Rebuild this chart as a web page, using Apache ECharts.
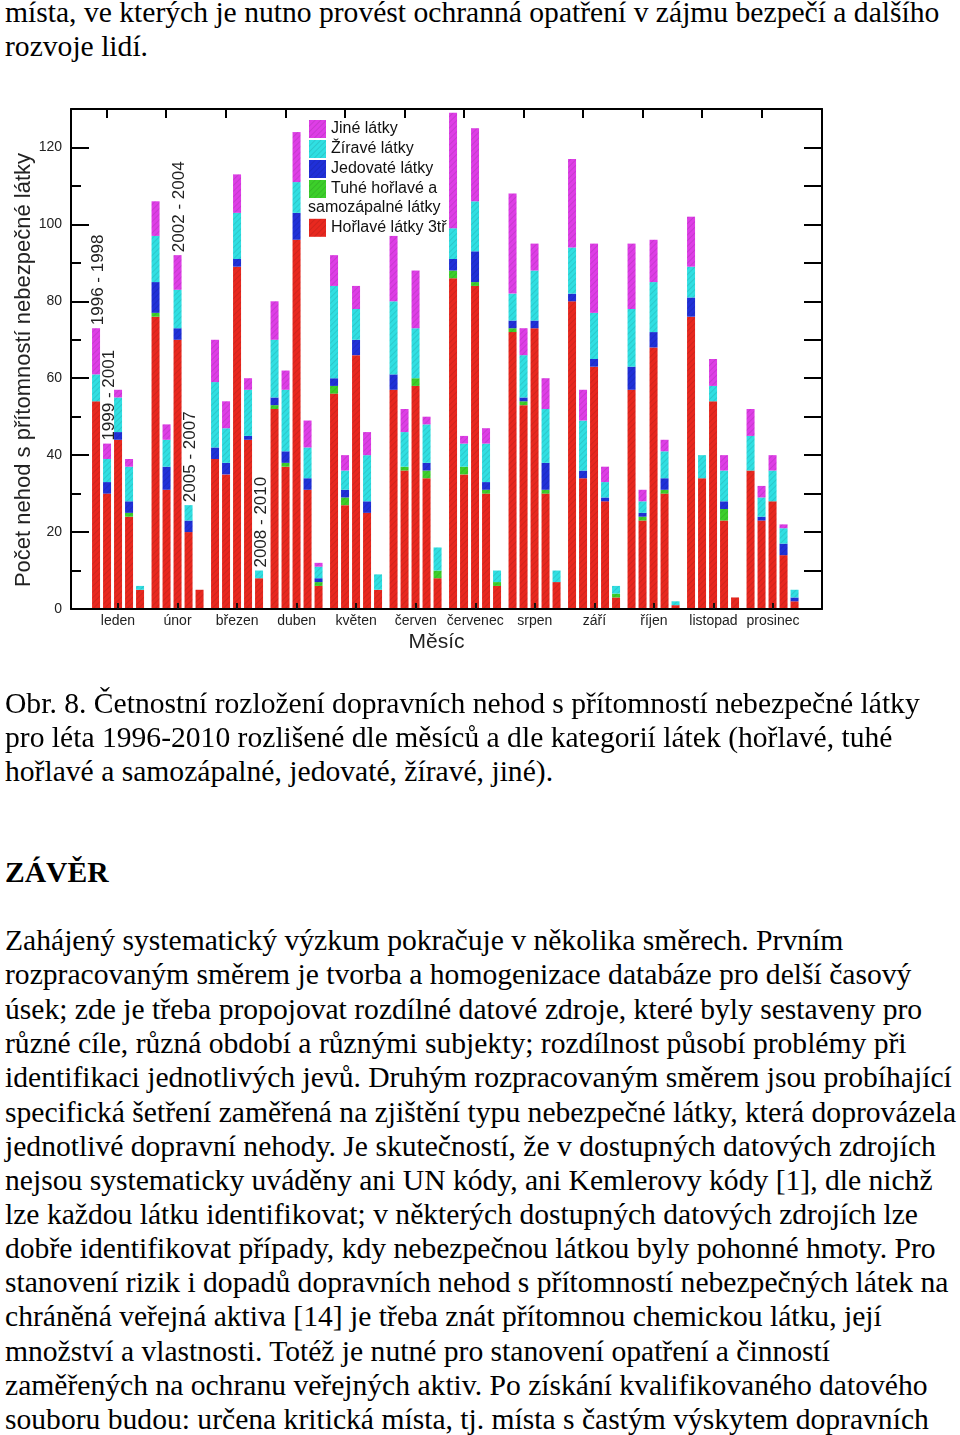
<!DOCTYPE html>
<html>
<head>
<meta charset="utf-8">
<script src="https://cdn.jsdelivr.net/npm/echarts@6/dist/echarts.min.js"></script>
<style>
  html, body { margin: 0; padding: 0; background: #fff; }
  body { width: 960px; height: 1435px; position: relative; overflow: hidden; font-family: "Liberation Serif", "Times New Roman", serif; color: #000; }
  .ln { position: absolute; left: 5px; white-space: nowrap; font-size: 29.6px; line-height: 34px; }
  .b { font-weight: bold; }
  #chart { position: absolute; left: 0; top: 90px; width: 870px; height: 600px; }
</style>
</head>
<body>
<div class="ln" style="top:-5px">místa, ve kterých je nutno provést ochranná opatření v zájmu bezpečí a dalšího</div>
<div class="ln" style="top:29px">rozvoje lidí.</div>

<div id="chart"></div>

<div class="ln" style="top:686px">Obr. 8. Četnostní rozložení dopravních nehod s přítomností nebezpečné látky</div>
<div class="ln" style="top:720px">pro léta 1996-2010 rozlišené dle měsíců a dle kategorií látek (hořlavé, tuhé</div>
<div class="ln" style="top:754px">hořlavé a samozápalné, jedovaté, žíravé, jiné).</div>

<div class="ln b" style="top:855px">ZÁVĚR</div>

<div class="ln" style="top:923px">Zahájený systematický výzkum pokračuje v několika směrech. Prvním</div>
<div class="ln" style="top:957px">rozpracovaným směrem je tvorba a homogenizace databáze pro delší časový</div>
<div class="ln" style="top:992px">úsek; zde je třeba propojovat rozdílné datové zdroje, které byly sestaveny pro</div>
<div class="ln" style="top:1026px">různé cíle, různá období a různými subjekty; rozdílnost působí problémy při</div>
<div class="ln" style="top:1060px">identifikaci jednotlivých jevů. Druhým rozpracovaným směrem jsou probíhající</div>
<div class="ln" style="top:1095px">specifická šetření zaměřená na zjištění typu nebezpečné látky, která doprovázela</div>
<div class="ln" style="top:1129px">jednotlivé dopravní nehody. Je skutečností, že v dostupných datových zdrojích</div>
<div class="ln" style="top:1163px">nejsou systematicky uváděny ani UN kódy, ani Kemlerovy kódy [1], dle nichž</div>
<div class="ln" style="top:1197px">lze každou látku identifikovat; v některých dostupných datových zdrojích lze</div>
<div class="ln" style="top:1231px">dobře identifikovat případy, kdy nebezpečnou látkou byly pohonné hmoty. Pro</div>
<div class="ln" style="top:1265px">stanovení rizik i dopadů dopravních nehod s přítomností nebezpečných látek na</div>
<div class="ln" style="top:1299px">chráněná veřejná aktiva [14] je třeba znát přítomnou chemickou látku, její</div>
<div class="ln" style="top:1334px">množství a vlastnosti. Totéž je nutné pro stanovení opatření a činností</div>
<div class="ln" style="top:1368px">zaměřených na ochranu veřejných aktiv. Po získání kvalifikovaného datového</div>
<div class="ln" style="top:1402px">souboru budou: určena kritická místa, tj. místa s častým výskytem dopravních</div>

<script>
// ---------------- DATA ----------------
const months = ['leden', 'únor', 'březen', 'duben', 'květen', 'červen', 'červenec', 'srpen', 'září', 'říjen', 'listopad', 'prosinec'];
const periods = ['1996 - 1998', '1999 - 2001', '2002 - 2004', '2005 - 2007', '2008 - 2010'];
// month of the bar over which each period label is written
const periodLabelMonth = [0, 0, 1, 1, 2];
const substances = ['Hořlavé látky 3tř', 'Tuhé hořlavé a samozápalné látky', 'Jedovaté látky', 'Žíravé látky', 'Jiné látky'];
const yTickValues = [0, 20, 40, 60, 80, 100, 120];
const yMinorValues = [10, 30, 50, 70, 90, 110];
const yRightValues = [0, 10, 20, 30, 40, 50, 60, 70, 80, 90, 100, 110, 120];

// each row = one month, columns = periods 1996-98 ... 2008-10
const horlave = [
  [54, 30, 44, 24, 5], [76, 31, 70, 20, 5], [39, 35, 89, 44, 8], [52, 37, 96, 31, 6],
  [56, 27, 66, 25, 5], [57, 36, 58, 34, 8], [86, 35, 84, 30, 6], [72, 53, 73, 30, 7],
  [80, 34, 63, 28, 3], [57, 23, 68, 30, 1], [76, 34, 54, 23, 3], [36, 23, 28, 14, 2]
];
const tuhe = [
  [0, 0, 0, 1, 0], [1, 0, 0, 0, 0], [0, 0, 0, 0, 0], [1, 1, 0, 0, 1],
  [2, 2, 0, 0, 0], [0, 1, 2, 2, 2], [2, 2, 1, 1, 1], [1, 1, 0, 1, 0],
  [0, 0, 0, 0, 1], [0, 1, 0, 1, 0], [0, 0, 0, 3, 0], [0, 0, 0, 0, 0]
];
const jedovate = [
  [0, 3, 2, 3, 0], [8, 6, 3, 3, 0], [3, 3, 2, 1, 0], [2, 3, 7, 3, 1],
  [2, 2, 4, 3, 0], [4, 0, 0, 2, 0], [3, 0, 8, 2, 0], [2, 1, 2, 7, 0],
  [2, 2, 2, 1, 0], [6, 1, 4, 3, 0], [5, 0, 0, 2, 0], [0, 1, 0, 3, 1]
];
const zirave = [
  [7, 6, 9, 9, 1], [12, 7, 10, 4, 0], [17, 9, 12, 12, 2], [15, 16, 8, 8, 3],
  [24, 5, 8, 12, 4], [19, 9, 13, 10, 6], [8, 6, 13, 10, 3], [7, 11, 13, 14, 3],
  [12, 13, 12, 4, 2], [15, 3, 13, 7, 1], [8, 6, 4, 8, 0], [9, 5, 8, 4, 2]
];
const jine = [
  [12, 4, 2, 2, 0], [9, 4, 9, 0, 0], [11, 7, 10, 3, 0], [10, 5, 13, 7, 1],
  [8, 4, 6, 6, 0], [17, 6, 15, 2, 0], [30, 2, 19, 4, 0], [26, 7, 7, 8, 0],
  [23, 8, 18, 4, 0], [17, 3, 11, 3, 0], [13, 0, 7, 4, 0], [7, 3, 4, 1, 0]
];
const substanceData = [horlave, tuhe, jedovate, zirave, jine];

// ---------------- STYLE ----------------
const colors = ['#e8281f', '#3ccf2a', '#2030d8', '#30dfe2', '#de3ee6'];
const FONT = '"Liberation Sans", Arial, sans-serif';
// frame axis (value scale in "month" units) and its relation to the bar grid
const X_MIN = 0.2107, X_MAX = 12.823;
const TOP_TICK_SHIFT = -0.19;
const BAR_W = 8, BAR_GAP = '37.5%';

const chart = echarts.init(document.getElementById('chart'), null, { renderer: 'canvas' });

const series = [];
periods.forEach((per, p) => {
  substanceData.forEach((arr, s) => {
    series.push({
      type: 'bar',
      name: substances[s],
      stack: 'period' + p,
      xAxisIndex: 2,
      yAxisIndex: 3,
      barWidth: BAR_W,
      barGap: BAR_GAP,
      itemStyle: {
        color: colors[s],
        decal: { symbol: 'rect', symbolSize: 1, dashArrayX: [1, 0], dashArrayY: [1, 3], rotation: -Math.PI / 4, color: 'rgba(0,0,0,0.10)' }
      },
      emphasis: { disabled: true },
      data: arr.map(row => row[p])
    });
  });
});

const axisLine = { show: true, onZero: false, lineStyle: { color: '#000', width: 2 } };

const option = {
  animation: false,
  grid: [
    { left: 88.3, top: 19, width: 714, height: 500, containLabel: false, outerBoundsMode: 'none' },   // bars
    { left: 71, top: 19, width: 751, height: 500, containLabel: false, outerBoundsMode: 'none' }      // frame
  ],
  legend: [
    {
      orient: 'vertical', left: 304, top: 25, itemWidth: 17, itemHeight: 18, itemGap: 2,
      icon: 'rect', selectedMode: false,
      data: ['Jiné látky', 'Žíravé látky', 'Jedovaté látky', 'Tuhé hořlavé a samozápalné látky'],
      formatter: n => n === 'Tuhé hořlavé a samozápalné látky' ? 'Tuhé hořlavé a' : n,
      textStyle: { fontFamily: FONT, fontSize: 16, color: '#111', lineHeight: 18 }
    },
    {
      orient: 'vertical', left: 304, top: 123.8, itemWidth: 17, itemHeight: 18, itemGap: 2,
      icon: 'rect', selectedMode: false,
      data: ['Hořlavé látky 3tř'],
      textStyle: { fontFamily: FONT, fontSize: 16, color: '#111', lineHeight: 18 }
    }
  ],
  xAxis: [
    {
      gridIndex: 1, type: 'value', position: 'bottom', min: X_MIN, max: X_MAX, z: 10,
      axisLine: axisLine,
      axisTick: { show: true, inside: true, length: 6, customValues: months.map((m, i) => i + 1), lineStyle: { color: '#111', width: 2 } },
      axisLabel: { customValues: months.map((m, i) => i + 1), formatter: v => months[Math.round(v) - 1], fontFamily: FONT, fontSize: 14, color: '#222', margin: 5 },
      splitLine: { show: false },
      name: 'Měsíc', nameLocation: 'middle', nameGap: 23, nameMoveOverlap: false,
      nameTextStyle: { fontFamily: FONT, fontSize: 21, color: '#222', verticalAlign: 'top', padding: [0, 20, 0, 0] }
    },
    {
      gridIndex: 1, type: 'value', position: 'top', min: X_MIN, max: X_MAX,
      axisLine: axisLine,
      axisTick: { show: true, inside: true, length: 9, customValues: months.map((m, i) => i + 1 + TOP_TICK_SHIFT), lineStyle: { color: '#000', width: 2 } },
      axisLabel: { show: false },
      splitLine: { show: false }
    },
    {
      gridIndex: 0, type: 'category', data: months, boundaryGap: true,
      axisLine: { show: false }, axisTick: { show: false }, axisLabel: { show: false }, splitLine: { show: false }
    }
  ],
  yAxis: [
    {
      gridIndex: 1, type: 'value', position: 'left', min: 0, max: 130,
      axisLine: axisLine,
      axisTick: { show: true, inside: true, length: 18, customValues: yTickValues, lineStyle: { color: '#000', width: 2 } },
      axisLabel: { customValues: yTickValues, fontFamily: FONT, fontSize: 14, color: '#222', margin: 9 },
      splitLine: { show: false },
      name: 'Počet nehod s přítomností nebezpečné látky', nameLocation: 'middle', nameGap: 36, nameMoveOverlap: false,
      nameTextStyle: { fontFamily: FONT, fontSize: 22, color: '#222', padding: [0, 22, 0, 0] }
    },
    {
      gridIndex: 1, type: 'value', position: 'right', min: 0, max: 130,
      axisLine: axisLine,
      axisTick: { show: true, inside: true, length: 18, customValues: yRightValues, lineStyle: { color: '#000', width: 2 } },
      axisLabel: { show: false },
      splitLine: { show: false }
    },
    {
      gridIndex: 1, type: 'value', position: 'left', min: 0, max: 130,
      axisLine: { show: false },
      axisTick: { show: true, inside: true, length: 10, customValues: yMinorValues, lineStyle: { color: '#000', width: 2 } },
      axisLabel: { show: false },
      splitLine: { show: false }
    },
    {
      gridIndex: 0, type: 'value', min: 0, max: 130,
      axisLine: { show: false }, axisTick: { show: false }, axisLabel: { show: false }, splitLine: { show: false }
    }
  ],
  series: series
};

chart.setOption(option);

// period labels above the corresponding bars, and second legend line
const barStep = BAR_W * (1 + parseFloat(BAR_GAP) / 100);
const graphics = [];
periods.forEach((per, p) => {
  const m = periodLabelMonth[p];
  let total = 0;
  substanceData.forEach(arr => { total += arr[m][p]; });
  const pt = chart.convertToPixel({ xAxisIndex: 2, yAxisIndex: 3 }, [m, total]);
  graphics.push({
    type: 'text', x: pt[0] + (p - 2) * barStep + 2, y: pt[1] - 3, rotation: Math.PI / 2, z: 20,
    style: { text: per, font: '17px ' + FONT, fill: '#222', align: 'left', verticalAlign: 'middle', textAlign: 'left', textVerticalAlign: 'middle' }
  });
});
graphics.push({
  type: 'text', x: 308, y: 117.5, z: 20,
  style: { text: 'samozápalné látky', font: '16px ' + FONT, fill: '#111', align: 'left', verticalAlign: 'middle', textAlign: 'left', textVerticalAlign: 'middle' }
});
chart.setOption({ graphic: graphics });
</script>
</body>
</html>
